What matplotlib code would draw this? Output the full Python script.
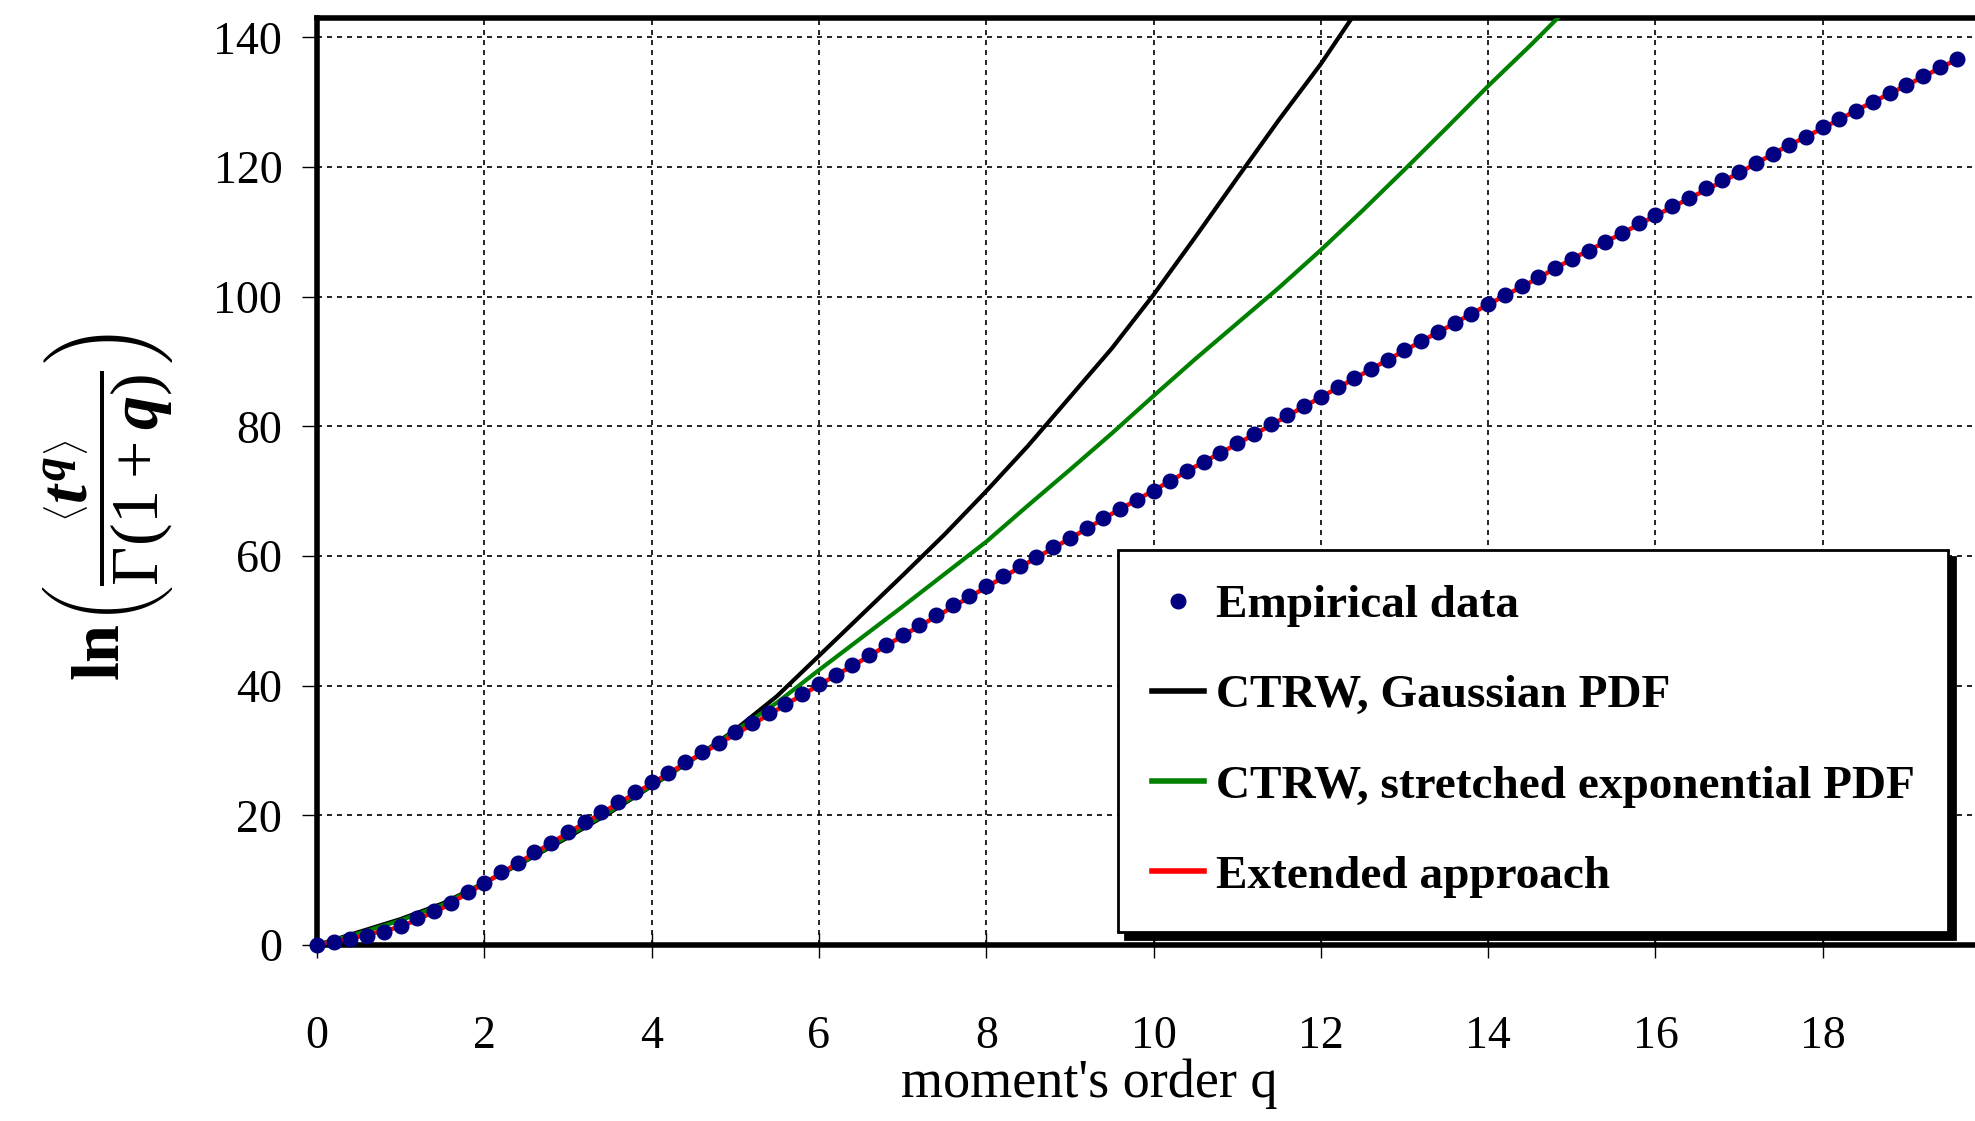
import numpy as np
import matplotlib
matplotlib.use("Agg")
import matplotlib.pyplot as plt

plt.rcParams['font.family'] = ['Liberation Serif', 'DejaVu Serif']
plt.rcParams['mathtext.fontset'] = 'custom'
plt.rcParams['mathtext.rm'] = 'Liberation Serif'
plt.rcParams['mathtext.it'] = 'Liberation Serif:italic:bold'
plt.rcParams['mathtext.bf'] = 'Liberation Serif:bold'

## Empirical data (q co 0.2)
q_emp = [0.0, 0.2, 0.4, 0.6, 0.8, 1.0, 1.2, 1.4, 1.6, 1.8,
         2.0, 2.2, 2.4, 2.6, 2.8, 3.0, 3.2, 3.4, 3.6, 3.8,
         4.0, 4.2, 4.4, 4.6, 4.8, 5.0, 5.2, 5.4, 5.6, 5.8,
         6.0, 6.2, 6.4, 6.6, 6.8, 7.0, 7.2, 7.4, 7.6, 7.8,
         8.0, 8.2, 8.4, 8.6, 8.8, 9.0, 9.2, 9.4, 9.6, 9.8,
         10.0, 10.2, 10.4, 10.6, 10.8, 11.0, 11.2, 11.4, 11.6, 11.8,
         12.0, 12.2, 12.4, 12.6, 12.8, 13.0, 13.2, 13.4, 13.6, 13.8,
         14.0, 14.2, 14.4, 14.6, 14.8, 15.0, 15.2, 15.4, 15.6, 15.8,
         16.0, 16.2, 16.4, 16.6, 16.8, 17.0, 17.2, 17.4, 17.6, 17.8,
         18.0, 18.2, 18.4, 18.6, 18.8, 19.0, 19.2, 19.4, 19.6]
y_emp = [0.0, 0.5, 1.0, 1.4, 2.0, 2.9, 4.1, 5.3, 6.5, 8.1,
         9.6, 11.2, 12.7, 14.3, 15.8, 17.4, 19.0, 20.5, 22.1, 23.6,
         25.1, 26.6, 28.2, 29.7, 31.2, 32.8, 34.3, 35.8, 37.2, 38.7,
         40.2, 41.7, 43.2, 44.8, 46.3, 47.8, 49.3, 50.9, 52.4, 53.9,
         55.4, 56.9, 58.4, 59.9, 61.4, 62.8, 64.3, 65.8, 67.2, 68.7,
         70.1, 71.6, 73.1, 74.5, 75.9, 77.4, 78.8, 80.3, 81.7, 83.1,
         84.6, 86.1, 87.5, 88.9, 90.3, 91.8, 93.2, 94.6, 96.0, 97.4,
         98.8, 100.2, 101.6, 103.0, 104.4, 105.8, 107.1, 108.5, 109.9, 111.3,
         112.6, 114.0, 115.3, 116.7, 118.0, 119.3, 120.7, 122.0, 123.4, 124.7,
         126.1, 127.4, 128.7, 130.1, 131.4, 132.7, 134.1, 135.4, 136.7]

## CTRW, Gaussian PDF
q_gauss = [0.0, 0.5, 1.0, 1.5, 2.0, 2.5, 3.0, 3.5, 4.0, 4.5, 5.0, 5.5,
           6.0, 6.5, 7.0, 7.5, 8.0, 8.5, 9.0, 9.5, 10.0, 10.5, 11.0,
           11.5, 12.0, 12.45]
y_gauss = [0.0, 2.0, 4.0, 6.4, 9.6, 13.0, 16.6, 20.4, 24.5, 28.7, 33.2, 38.4,
           44.6, 50.8, 57.0, 63.3, 70.0, 77.0, 84.5, 92.0, 100.3, 109.2, 118.3,
           127.3, 135.9, 144.5]

## CTRW, stretched exponential PDF
q_stretch = [0.0, 0.5, 1.0, 1.5, 2.0, 2.5, 3.0, 3.5, 4.0, 4.5, 5.0, 5.5,
             6.0, 6.5, 7.0, 7.5, 8.0, 8.5, 9.0, 9.5, 10.0, 10.5, 11.0,
             11.5, 12.0, 12.5, 13.0, 13.5, 14.0, 14.5, 14.95]
y_stretch = [0.0, 1.8, 3.8, 6.2, 9.6, 13.1, 16.8, 20.6, 24.6, 28.7, 33.0, 37.4,
             42.4, 47.3, 52.2, 57.2, 62.2, 67.8, 73.3, 78.9, 84.7, 90.4, 95.9,
             101.4, 107.2, 113.3, 119.6, 126.0, 132.5, 138.7, 144.5]

## Extended approach
q_ext = [0.0, 0.5, 1.0, 1.5, 2.0, 2.5, 3.0, 3.5, 4.0, 4.5, 5.0, 5.5,
         6.0, 6.5, 7.0, 7.5, 8.0, 8.5, 9.0, 9.5, 10.0, 10.5, 11.0, 11.5,
         12.0, 12.5, 13.0, 13.5, 14.0, 14.5, 15.0, 15.5, 16.0, 16.5,
         17.0, 17.5, 18.0, 18.5, 19.0, 19.6]
y_ext = [0.0, 1.3, 2.8, 5.7, 9.5, 13.4, 17.3, 21.1, 24.9, 28.8, 32.5, 36.3,
         40.1, 43.8, 47.7, 51.4, 55.2, 59.0, 62.7, 66.5, 70.1, 73.8, 77.3, 80.9,
         84.5, 88.1, 91.7, 95.2, 98.8, 102.2, 105.8, 109.1, 112.5, 115.8,
         119.1, 122.7, 126.0, 129.4, 132.6, 136.6]

xticks = [0, 2, 4, 6, 8, 10, 12, 14, 16, 18]
yticks = [0, 20, 40, 60, 80, 100, 120, 140]

fig = plt.figure(figsize=(19.75, 11.21), dpi=100)
ax = fig.add_axes([0.1605, 0.157, 0.8395, 0.827])

ax.plot(q_gauss, y_gauss, color='black', lw=3.0, label='CTRW, Gaussian PDF', zorder=3)
ax.plot(q_stretch, y_stretch, color='#008000', lw=3.0, label='CTRW, stretched exponential PDF', zorder=3)
ax.plot(q_ext, y_ext, color='#ff0000', lw=3.2, label='Extended approach', zorder=4)
ax.plot(q_emp, y_emp, 'o', color='#000080', ms=10.5, label='Empirical data', zorder=5, clip_on=False)

ax.set_xlim(0, 19.82)
ax.set_ylim(0, 143)
ax.set_xticks(xticks)
ax.set_yticks(yticks)
ax.grid(True, color='black', lw=1.2, linestyle=(0, (3, 3)))
ax.set_axisbelow(True)

for s in ['left', 'top', 'bottom']:
    ax.spines[s].set_linewidth(4.0)
ax.spines['right'].set_visible(False)

ax.tick_params(axis='y', direction='out', length=11, width=1.0, pad=14, labelsize=33)
ax.tick_params(axis='x', direction='inout', length=18, width=1.0, pad=42, labelsize=33)

ax.set_xlabel("moment's order q", fontsize=39)
ax.xaxis.set_label_coords(0.466, -0.122)

fig.text(0.055, 0.548,
         r'$\mathbf{ln}\left(\dfrac{\left\langle t^{q}\right\rangle}{\Gamma(1+q)}\right)$',
         rotation=90, fontsize=49, ha='center', va='center')

handles, labels = ax.get_legend_handles_labels()
order = [3, 0, 1, 2]
leg = ax.legend([handles[i] for i in order], [labels[i] for i in order],
                loc='upper left', bbox_to_anchor=(0.483, 0.426), borderaxespad=0,
                fancybox=False, framealpha=1, edgecolor='black', numpoints=1,
                prop={'weight': 'bold', 'size': 34}, handlelength=1.1,
                handletextpad=0.25, labelspacing=1.0, borderpad=0.72,
                shadow={'ox': 5, 'oy': -5, 'color': 'black', 'alpha': 1})
leg.get_frame().set_linewidth(2.0)
for ln in leg.get_lines():
    ln.set_linewidth(4.0)

fig.savefig('out.png', dpi=100)
